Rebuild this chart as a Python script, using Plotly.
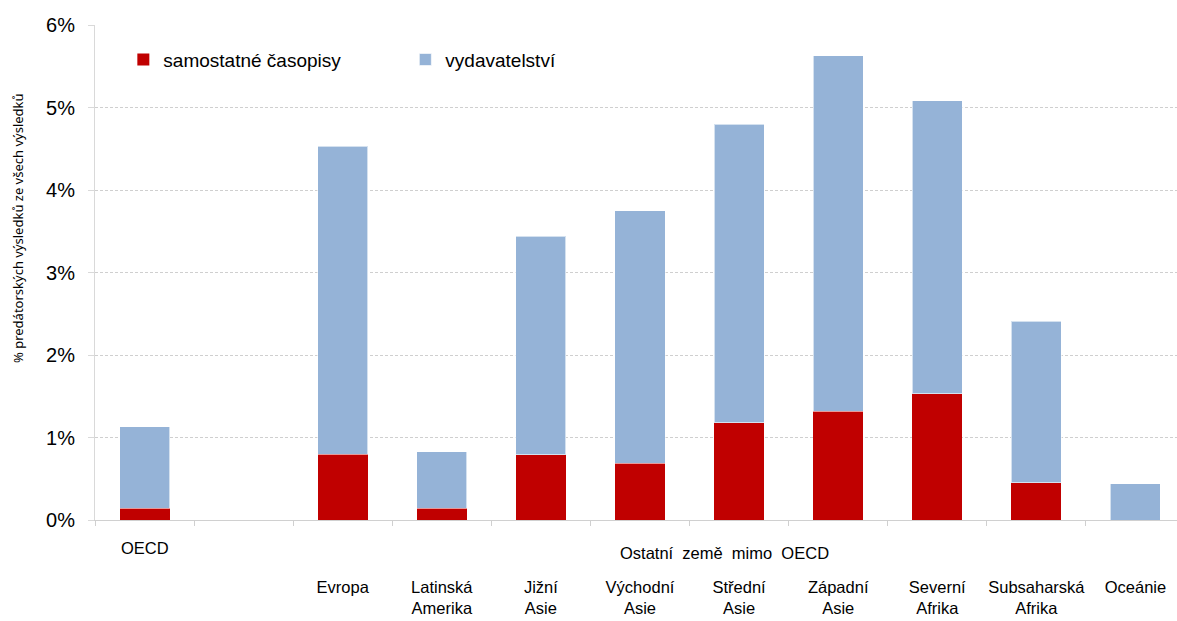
import plotly.graph_objects as go

categories = [" ", "  ", "Evropa", "Latinská<br>Amerika", "Jižní<br>Asie", "Východní<br>Asie",
              "Střední<br>Asie", "Západní<br>Asie", "Severní<br>Afrika", "Subsaharská<br>Afrika", "Oceánie"]
journals = [0.14, None, 0.80, 0.14, 0.79, 0.69, 1.18, 1.32, 1.53, 0.45, 0.0]
publishers = [0.99, None, 3.73, 0.69, 2.65, 3.06, 3.62, 4.31, 3.55, 1.96, 0.44]
yticks = [0, 1, 2, 3, 4, 5, 6]
ytick_labels = [f"{v}%" for v in yticks]
group_labels = ["OECD", "Ostatní\u00a0\u00a0země\u00a0\u00a0mimo\u00a0\u00a0OECD"]
y_title = "% predátorských výsledků ze všech výsledků"

RED = "#C00000"
BLUE = "#95B3D7"
FONT = "Liberation Sans, Arial, sans-serif"

fig = go.Figure()
fig.add_trace(go.Bar(x=categories, y=journals, name="samostatné časopisy",
                     marker=dict(color=RED, line=dict(width=0))))
fig.add_trace(go.Bar(x=categories, y=publishers, name="vydavatelství",
                     marker=dict(color=BLUE, line=dict(width=1, color="rgba(255,255,255,0.6)"))))

fig.update_layout(
    width=1187, height=621,
    barmode="stack", bargap=0.495,
    plot_bgcolor="white", paper_bgcolor="white",
    margin=dict(l=95, r=2, t=25, b=101),
    font=dict(family=FONT, color="#000000"),
    legend=dict(orientation="h", x=0.026, y=0.93, xanchor="left", yanchor="middle",
                traceorder="normal",
                font=dict(size=19, family=FONT), entrywidth=237, entrywidthmode="pixels",
                bgcolor="rgba(0,0,0,0)", itemclick=False),
    xaxis=dict(type="category", categoryorder="array", categoryarray=categories,
               showline=True, linecolor="#D0D0D0", linewidth=1, automargin=False,
               ticks="outside", tickson="boundaries", ticklen=5, tickcolor="#D0D0D0",
               tickfont=dict(size=16.5, family=FONT), ticklabelstandoff=52, tickangle=0,
               showgrid=False),
    yaxis=dict(range=[0, 6], tickvals=yticks, ticktext=ytick_labels, automargin=False,
               showline=True, linecolor="#D9D9D9", linewidth=1,
               ticks="outside", ticklen=6, tickcolor="#D9D9D9",
               tickfont=dict(size=20, family=FONT), ticklabelstandoff=9,
               showgrid=True, gridcolor="#CFCFCF", griddash="3px,2px", gridwidth=1,
               zeroline=False),
)

fig.add_annotation(x=-0.0706, y=0.59, xref="paper", yref="paper", text=y_title, textangle=-90,
                   showarrow=False, font=dict(size=13, family="Noto Sans, sans-serif"),
                   xanchor="center", yanchor="middle")
fig.add_annotation(x=0, y=-0.057, xref="x", yref="paper", text=group_labels[0],
                   showarrow=False, font=dict(size=16.5, family=FONT), yanchor="middle")
fig.add_annotation(x=5.85, y=-0.066, xref="x", yref="paper", text=group_labels[1],
                   showarrow=False, font=dict(size=16.5, family=FONT), yanchor="middle")

fig.write_html("out.html", config={"displayModeBar": False},
               post_script="document.body.style.margin='0';document.body.style.overflow='hidden';")
